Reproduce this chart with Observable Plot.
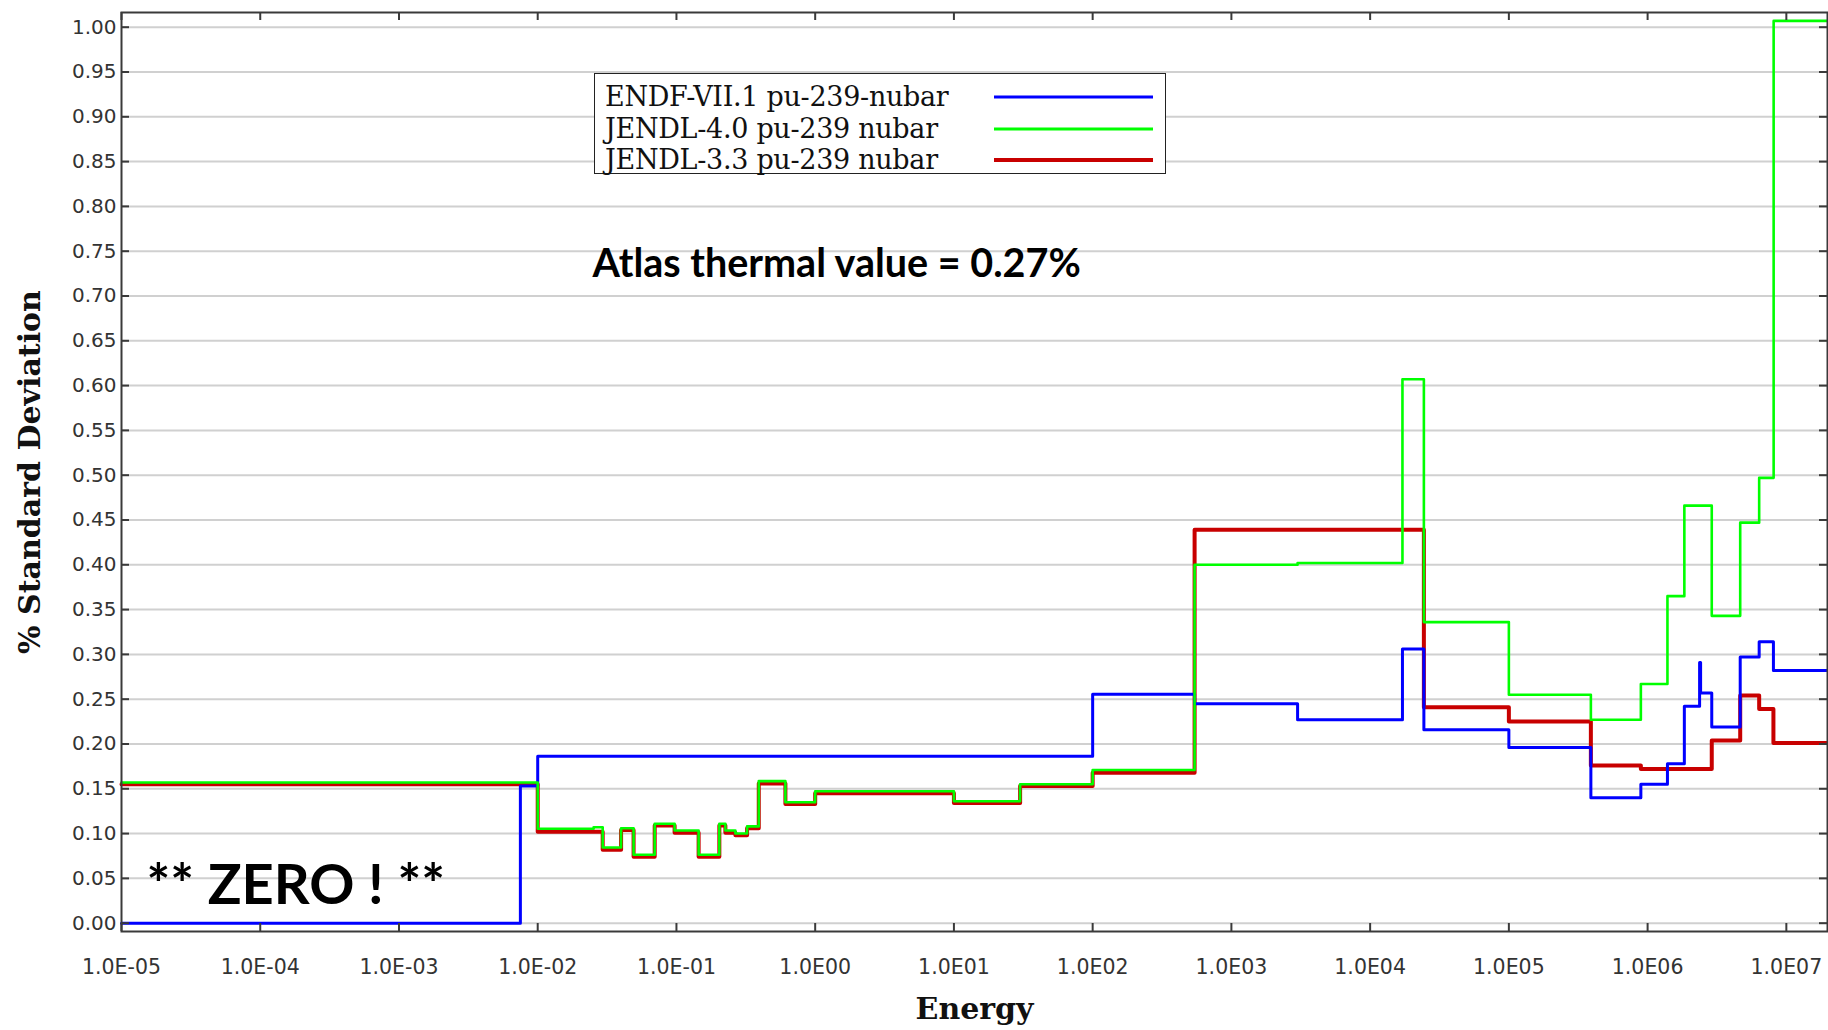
<!DOCTYPE html>
<html>
<head>
<meta charset="utf-8">
<script src="https://cdn.jsdelivr.net/npm/d3@7"></script>
<script src="https://cdn.jsdelivr.net/npm/@observablehq/plot@0.6"></script>
<style>
  html, body { margin: 0; padding: 0; background: #fff; }
  #wrap { position: relative; width: 1828px; height: 1030px; overflow: hidden; }
  #legend { position: absolute; left: 594px; top: 73px; width: 572px; height: 101px;
    border: 1.5px solid #222; box-sizing: border-box; background: #fff;
    font-family: "DejaVu Serif"; font-size: 27px; color: #111; }
  #legend .row { position: absolute; left: 10px; height: 32px; line-height: 32px; white-space: nowrap; letter-spacing: -0.3px; }
  #legend svg { position: absolute; left: 0; top: 0; }
</style>
</head>
<body>
<div id="wrap"></div>
<script>
// ---- series names & colours ----
const seriesNames = ["ENDF-VII.1 pu-239-nubar", "JENDL-4.0 pu-239 nubar", "JENDL-3.3 pu-239 nubar"];
const seriesColors = ["#0000ff", "#00ff00", "#c80000"];

// ---- ENDF-VII.1 (blue): bin start energies (eV) and % std. dev. ----
const endfEnergy = [1e-5, 0.0075, 0.01, 100, 543, 3000, 17100, 24400, 1e5, 3.9e5, 8.94e5, 1.39e6, 1.84e6, 2.37e6, 2.41e6, 2.9e6, 4.65e6, 6.37e6, 8.07e6];
const endfValue  = [0.0, 0.153, 0.1864, 0.2556, 0.245, 0.227, 0.306, 0.216, 0.196, 0.140, 0.155, 0.178, 0.242, 0.291, 0.257, 0.219, 0.297, 0.314, 0.282];

// ---- JENDL-4.0 (green) ----
const jendl4Energy = [1e-5, 0.01, 0.0253, 0.0294, 0.0399, 0.0491, 0.0697, 0.097, 0.1445, 0.2038, 0.2253, 0.266, 0.323, 0.392, 0.61, 1.0, 10, 30, 100, 543, 3000, 17100, 24400, 1e5, 3.9e5, 8.94e5, 1.39e6, 1.84e6, 2.9e6, 4.65e6, 6.37e6, 8.1e6];
const jendl4Value  = [0.157, 0.1054, 0.107, 0.0845, 0.106, 0.0763, 0.111, 0.1035, 0.0763, 0.111, 0.1035, 0.100, 0.108, 0.1585, 0.135, 0.1473, 0.136, 0.155, 0.171, 0.400, 0.402, 0.607, 0.336, 0.255, 0.227, 0.267, 0.365, 0.466, 0.343, 0.447, 0.497, 1.007];

// ---- JENDL-3.3 (red) ----
const jendl33Energy = [1e-5, 0.01, 0.0294, 0.0399, 0.0491, 0.0697, 0.097, 0.1445, 0.2038, 0.2253, 0.266, 0.323, 0.392, 0.61, 1.0, 10, 30, 100, 543, 24400, 1e5, 3.9e5, 8.94e5, 2.9e6, 4.65e6, 6.37e6, 8.07e6];
const jendl33Value  = [0.155, 0.102, 0.082, 0.104, 0.074, 0.109, 0.101, 0.074, 0.109, 0.101, 0.098, 0.106, 0.156, 0.133, 0.145, 0.134, 0.153, 0.168, 0.439, 0.241, 0.225, 0.176, 0.172, 0.204, 0.254, 0.239, 0.201];

// ---- axes ----
const energyDomain = [1e-5, 1.98e7];
const valueDomain = [-0.0093, 1.0164];
const xTicks = [1e-5, 1e-4, 1e-3, 1e-2, 1e-1, 1e0, 1e1, 1e2, 1e3, 1e4, 1e5, 1e6, 1e7];
const xTickLabels = ["1.0E-05", "1.0E-04", "1.0E-03", "1.0E-02", "1.0E-01", "1.0E00", "1.0E01", "1.0E02", "1.0E03", "1.0E04", "1.0E05", "1.0E06", "1.0E07"];
const yTicks = [0.00, 0.05, 0.10, 0.15, 0.20, 0.25, 0.30, 0.35, 0.40, 0.45, 0.50, 0.55, 0.60, 0.65, 0.70, 0.75, 0.80, 0.85, 0.90, 0.95, 1.00];
const xTitle = "Energy";
const yTitle = "% Standard Deviation";
const notes = ["Atlas thermal value = 0.27%", "** ZERO ! **"];

// build step tables
function steps(E, V) {
  const pts = E.map((e, i) => ({e, v: V[i]}));
  pts.push({e: energyDomain[1], v: V[V.length - 1]});
  return pts;
}
const blue = steps(endfEnergy, endfValue);
const green = steps(jendl4Energy, jendl4Value);
const red = steps(jendl33Energy, jendl33Value);

const xLabelOf = d => {
  let best = 0;
  xTicks.forEach((t, i) => { if (Math.abs(Math.log10(t) - Math.log10(d)) < Math.abs(Math.log10(xTicks[best]) - Math.log10(d))) best = i; });
  return xTickLabels[best];
};

const W = 1828, H = 1030, mL = 121, mR = 1, mT = 12, mB = 99;
const fw = W - mL - mR, fh = H - mT - mB;
const axisColor = "#3a3a3a";

const chart = Plot.plot({
  width: W, height: H,
  marginLeft: mL, marginRight: mR, marginTop: mT, marginBottom: mB,
  x: {type: "log", domain: energyDomain, axis: null},
  y: {domain: valueDomain, axis: null},
  style: {background: "transparent"},
  marks: [
    Plot.ruleY(yTicks, {y: d => d, stroke: "#d0d0d0", strokeWidth: 2}),
    Plot.line(red, {x: "e", y: "v", curve: "step-after", stroke: seriesColors[2], strokeWidth: 4}),
    Plot.line(blue, {x: "e", y: "v", curve: "step-after", stroke: seriesColors[0], strokeWidth: 3}),
    Plot.line(green, {x: "e", y: "v", curve: "step-after", stroke: seriesColors[1], strokeWidth: 2.6}),
    Plot.frame({stroke: axisColor, strokeWidth: 2}),
    Plot.ruleX(xTicks, {x: d => d, insetTop: fh - 8, stroke: axisColor, strokeWidth: 2}),
    Plot.ruleX(xTicks, {x: d => d, insetBottom: fh - 8, stroke: axisColor, strokeWidth: 2}),
    Plot.ruleY(yTicks, {y: d => d, insetRight: fw - 8, stroke: axisColor, strokeWidth: 2}),
    Plot.ruleY(yTicks, {y: d => d, insetLeft: fw - 8, stroke: axisColor, strokeWidth: 2}),
    Plot.text(xTicks, {x: d => d, text: d => xLabelOf(d), frameAnchor: "bottom", dy: 36, lineAnchor: "middle",
      textAnchor: "middle", fontSize: 20.5, fontFamily: "DejaVu Sans", fill: "#333"}),
    Plot.text(yTicks, {y: d => d, text: d => d.toFixed(2), frameAnchor: "left", dx: -5, lineAnchor: "middle",
      textAnchor: "end", fontSize: 20, fontFamily: "DejaVu Sans", fill: "#333"}),
    Plot.text([xTitle], {text: d => d, frameAnchor: "bottom", dy: 87, lineAnchor: "bottom", textAnchor: "middle",
      fontFamily: "DejaVu Serif", fontWeight: "bold", fontSize: 30, fill: "#111"}),
    Plot.text([yTitle], {text: d => d, frameAnchor: "left", rotate: -90, dx: -103, lineAnchor: "top", textAnchor: "middle",
      fontFamily: "DejaVu Serif", fontWeight: "bold", fontSize: 30, fill: "#111"}),
    Plot.text([notes[0]], {text: d => d, frameAnchor: "top-left", dx: 471, dy: 252, textAnchor: "start",
      lineAnchor: "middle", fontFamily: "Lato", fontWeight: "bold", fontSize: 39.5, fill: "#000"}),
    Plot.text([notes[1]], {text: d => d, frameAnchor: "bottom-left", dx: 25, dy: -45, textAnchor: "start",
      lineAnchor: "middle", fontFamily: "Lato", fontWeight: "bold", fontSize: 56, fill: "#000"})
  ]
});

const wrap = document.getElementById("wrap");
wrap.appendChild(chart);

// legend box (inside the plot area, as in the original)
const legend = document.createElement("div");
legend.id = "legend";
const rowTops = [7, 39, 70];
const widths = [3, 3, 4];
let svgLines = '<svg width="572" height="101">';
seriesNames.forEach((name, i) => {
  const row = document.createElement("div");
  row.className = "row";
  row.style.top = rowTops[i] + "px";
  row.textContent = name;
  legend.appendChild(row);
  const cy = rowTops[i] + 16;
  svgLines += `<line x1="399" x2="558" y1="${cy}" y2="${cy}" stroke="${seriesColors[i]}" stroke-width="${widths[i]}"/>`;
});
svgLines += '</svg>';
legend.insertAdjacentHTML("afterbegin", svgLines);
wrap.appendChild(legend);
</script>
</body>
</html>
